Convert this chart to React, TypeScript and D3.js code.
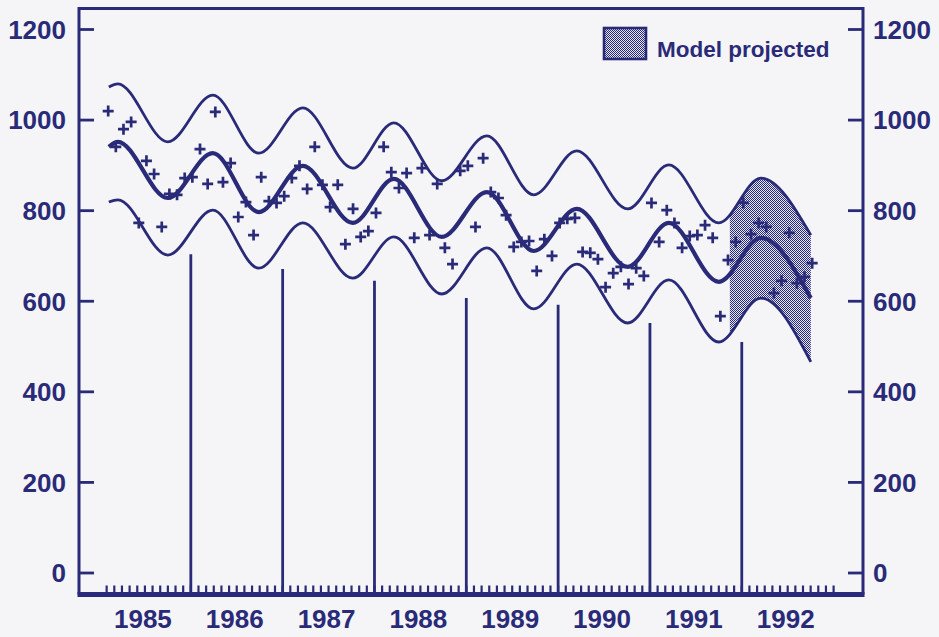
import * as d3 from "d3";
import { useEffect, useRef } from "react";

const width = 939;
const height = 637;
const navy = "#2a2b78";
const paper = "#f5f5f7";
const font = "'Liberation Sans', Arial, Helvetica, sans-serif";

const yTicks = [0, 200, 400, 600, 800, 1000, 1200];
const years = [1985, 1986, 1987, 1988, 1989, 1990, 1991, 1992];

// monthly observations, starting Feb 1985
const obsStart = 1985.1;
const observed = [
  1020, 941, 980, 996, 773, 910, 881, 764, 837, 835, 872, 874,
  936, 859, 1018, 863, 905, 786, 819, 746, 874, 821, 817, 832,
  872, 899, 848, 941, 857, 808, 857, 726, 804, 742, 755, 795,
  941, 885, 850, 883, 740, 894, 746, 859, 718, 682, 888, 899,
  764, 916, 841, 828, 790, 720, 731, 733, 667, 737, 700, 773,
  782, 784, 709, 707, 693, 631, 662, 676, 638, 673, 656, 817,
  731, 801, 773, 718, 744, 746, 768, 740, 567, 691, 731, 817,
  748, 773, 764, 618, 645, 751, 640, 654, 684,
];

// model curves, read at their turning points (decimal years)
const bandT = [
  1985.107, 1985.205, 1985.749, 1986.239, 1986.74, 1987.219, 1987.764,
  1988.21, 1988.733, 1989.223, 1989.735, 1990.203, 1990.758, 1991.205,
  1991.749, 1992.207, 1992.752,
];
const upperV = [
  1073, 1080, 952, 1055, 927, 1027, 894, 994, 866, 965, 835, 932, 804, 901,
  773, 872, 746,
];
const centerV = [
  941, 952, 828, 927, 797, 899, 773, 870, 742, 841, 711, 804, 676, 773, 643,
  740, 607,
];
const lowerV = [
  819, 824, 702, 801, 673, 773, 651, 742, 616, 718, 583, 682, 552, 647, 510,
  607, 466,
];

// yearly markers rising from the time axis, 1986..1992
const markYears = [1986, 1987, 1988, 1989, 1990, 1991, 1992];
const markTop = [704, 671, 645, 607, 592, 552, 510];

const projStart = 1991.87;
const legendLabel = "Model projected";

const frame = { left: 79, right: 863, top: 8.5, bottom: 594.5 };

const App = () => {
  const ref = useRef<SVGSVGElement | null>(null);

  useEffect(() => {
    if (!ref.current) return;
    const svg = d3.select(ref.current);
    svg.selectAll("*").remove();

    const x = d3.scaleLinear().domain([1985, 1993]).range([99, 833.6]);
    const y = d3.scaleLinear().domain([0, 1200]).range([573, 29.5]);

    const defs = svg.append("defs");
    const pat = defs
      .append("pattern")
      .attr("id", "dots")
      .attr("width", 2)
      .attr("height", 2)
      .attr("patternUnits", "userSpaceOnUse");
    pat.append("rect").attr("width", 2).attr("height", 2).attr("fill", "#e6e6f2");
    pat.append("rect").attr("width", 1).attr("height", 1).attr("fill", navy);
    pat.append("rect").attr("x", 1).attr("y", 1).attr("width", 1).attr("height", 1).attr("fill", navy);

    defs
      .append("clipPath")
      .attr("id", "proj")
      .append("rect")
      .attr("x", x(projStart))
      .attr("y", 0)
      .attr("width", x(bandT[bandT.length - 1]) - x(projStart) + 1)
      .attr("height", height);

    svg.append("rect").attr("width", width).attr("height", height).attr("fill", paper);

    const idx = d3.range(bandT.length);

    // projected band
    const area = d3
      .area<number>()
      .x((i) => x(bandT[i]))
      .y0((i) => y(lowerV[i]))
      .y1((i) => y(upperV[i]))
      .curve(d3.curveMonotoneX);
    svg
      .append("path")
      .attr("d", area(idx))
      .attr("fill", "url(#dots)")
      .attr("clip-path", "url(#proj)");

    // year markers
    svg
      .selectAll(".mark")
      .data(markYears)
      .join("line")
      .attr("x1", (d) => x(d))
      .attr("x2", (d) => x(d))
      .attr("y1", frame.bottom)
      .attr("y2", (d, i) => y(markTop[i]))
      .attr("stroke", navy)
      .attr("stroke-width", 2.8);

    // monthly ticks
    svg
      .selectAll(".mt")
      .data(d3.range(1, 97))
      .join("line")
      .attr("x1", (m) => x(1985 + m / 12))
      .attr("x2", (m) => x(1985 + m / 12))
      .attr("y1", frame.bottom)
      .attr("y2", frame.bottom - 9)
      .attr("stroke", navy)
      .attr("stroke-width", 2.2);

    // frame
    svg
      .append("path")
      .attr(
        "d",
        `M${frame.left},${frame.bottom}V${frame.top}H${frame.right}V${frame.bottom}`
      )
      .attr("fill", "none")
      .attr("stroke", navy)
      .attr("stroke-width", 3);
    svg
      .append("line")
      .attr("x1", frame.left - 1.5)
      .attr("x2", frame.right + 1.5)
      .attr("y1", frame.bottom)
      .attr("y2", frame.bottom)
      .attr("stroke", navy)
      .attr("stroke-width", 5);

    // y ticks and labels on both sides
    yTicks.forEach((t) => {
      svg
        .append("line")
        .attr("x1", frame.left)
        .attr("x2", frame.left + 15)
        .attr("y1", y(t))
        .attr("y2", y(t))
        .attr("stroke", navy)
        .attr("stroke-width", 2.8);
      svg
        .append("line")
        .attr("x1", frame.right - 15)
        .attr("x2", frame.right)
        .attr("y1", y(t))
        .attr("y2", y(t))
        .attr("stroke", navy)
        .attr("stroke-width", 2.8);
      svg
        .append("text")
        .attr("x", 66)
        .attr("y", y(t))
        .attr("dy", "0.36em")
        .attr("text-anchor", "end")
        .text(t);
      svg
        .append("text")
        .attr("x", 873)
        .attr("y", y(t))
        .attr("dy", "0.36em")
        .attr("text-anchor", "start")
        .text(t);
    });

    svg
      .selectAll(".yr")
      .data(years)
      .join("text")
      .attr("x", (d) => x(d + 0.5) - 2)
      .attr("y", 628)
      .attr("text-anchor", "middle")
      .text((d) => d);

    svg
      .selectAll("text")
      .attr("fill", navy)
      .attr("font-family", font)
      .attr("font-weight", "bold")
      .attr("font-size", 26);

    // model curves
    const line = (vals: number[]) =>
      d3
        .line<number>()
        .x((i) => x(bandT[i]))
        .y((i) => y(vals[i]))
        .curve(d3.curveMonotoneX)(idx);
    [
      { v: upperV, w: 2.8 },
      { v: lowerV, w: 2.8 },
      { v: centerV, w: 4.2 },
    ].forEach((c) => {
      svg
        .append("path")
        .attr("d", line(c.v))
        .attr("fill", "none")
        .attr("stroke", navy)
        .attr("stroke-width", c.w);
    });

    // observations
    svg
      .selectAll(".obs")
      .data(observed)
      .join("path")
      .attr("transform", (d, i) => `translate(${x(obsStart + i / 12)},${y(d)})`)
      .attr("d", "M-5.5,0H5.5M0,-5.5V5.5")
      .attr("stroke", navy)
      .attr("stroke-width", 2.7);

    // legend
    svg
      .append("rect")
      .attr("x", 604)
      .attr("y", 28)
      .attr("width", 42)
      .attr("height", 31)
      .attr("fill", "url(#dots)")
      .attr("stroke", navy)
      .attr("stroke-width", 2.6);
    svg
      .append("text")
      .attr("x", 657)
      .attr("y", 57)
      .attr("fill", navy)
      .attr("font-family", font)
      .attr("font-weight", "bold")
      .attr("font-size", 22.5)
      .text(legendLabel);
  }, []);

  return (
    <svg
      ref={ref}
      width={width}
      height={height}
      style={{ position: "absolute", left: 0, top: 0 }}
    />
  );
};

export default App;
